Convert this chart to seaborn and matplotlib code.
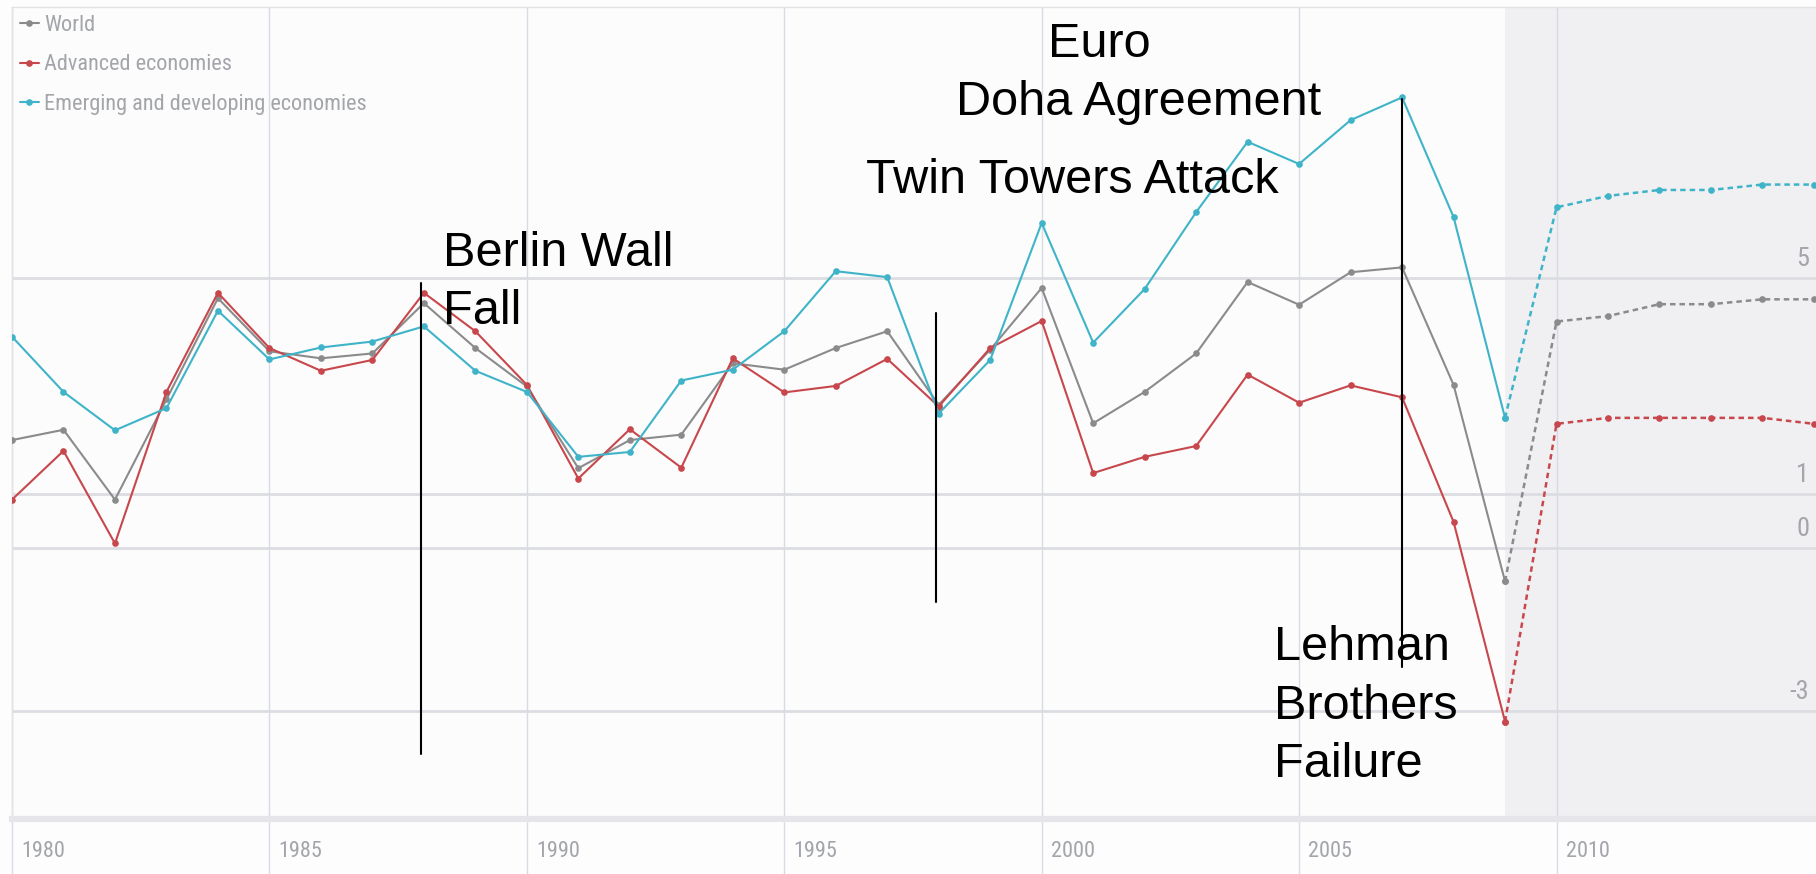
import numpy as np
import pandas as pd
import matplotlib
matplotlib.use("Agg")
import matplotlib.pyplot as plt
import matplotlib.transforms as mtransforms
from matplotlib import font_manager as fm
import seaborn as sns

years = list(range(1980, 2010))
world = [2.0, 2.19, 0.90, 2.75, 4.62, 3.64, 3.51, 3.6, 4.53, 3.70,
         2.99, 1.48, 2.0, 2.10, 3.42, 3.30, 3.70, 4.01, 2.65, 3.67,
         4.81, 2.31, 2.89, 3.60, 4.92, 4.50, 5.10, 5.19, 3.02, -0.61]
advanced = [0.90, 1.80, 0.09, 2.89, 4.72, 3.70, 3.28, 3.48, 4.72, 4.01,
            3.02, 1.29, 2.20, 1.49, 3.51, 2.88, 3.0, 3.5, 2.62, 3.70,
            4.20, 1.39, 1.69, 1.89, 3.21, 2.69, 3.01, 2.79, 0.49, -3.20]
emerging = [3.91, 2.89, 2.18, 2.59, 4.39, 3.49, 3.71, 3.82, 4.10, 3.28,
            2.89, 1.69, 1.78, 3.10, 3.30, 4.01, 5.12, 5.01, 2.49, 3.48,
            6.01, 3.80, 4.79, 6.21, 7.51, 7.10, 7.91, 8.33, 6.12, 2.41]

# projections
proj_years = list(range(2009, 2016))
world_proj = [-0.61, 4.19, 4.29, 4.51, 4.51, 4.60, 4.60]
advanced_proj = [-3.20, 2.30, 2.41, 2.41, 2.41, 2.41, 2.30]
emerging_proj = [2.41, 6.30, 6.51, 6.62, 6.62, 6.72, 6.72]

series_names = ["World", "Advanced economies", "Emerging and developing economies"]
series_colors = ["#8b8b8d", "#c8474c", "#3fb4c9"]

xtick_years = [1980, 1985, 1990, 1995, 2000, 2005, 2010]
ytick_values = [5, 1, 0, -3]
forecast_start = 2009

event_years = [1987.95, 1997.94, 2007.0]
event_spans = [(-3.8, 4.91), (-1.0, 4.35), (-2.19, 8.30)]
event_texts = [["Berlin Wall", "Fall"], ["Twin Towers Attack"], ["Lehman", "Brothers", "Failure"]]
top_texts = ["Euro", "Doha Agreement"]


def to_long(yrs, cols):
    frames = []
    for name, vals in zip(series_names, cols):
        frames.append(pd.DataFrame({"year": yrs, "growth": vals, "series": name}))
    return pd.concat(frames, ignore_index=True)


actual = to_long(years, [world, advanced, emerging])
proj = to_long(proj_years, [world_proj, advanced_proj, emerging_proj])

sns.set_theme(style="white")
plt.rcParams["font.family"] = ["Liberation Sans", "DejaVu Sans"]

# a condensed face for the small grey labels, whichever is around
installed = {f.name for f in fm.fontManager.ttflist}
narrow_name = next((n for n in ["Liberation Sans Narrow", "Roboto Condensed",
                                "Open Sans Condensed", "DejaVu Sans Condensed"]
                    if n in installed), None)
if narrow_name:
    small_font = fm.FontProperties(family=narrow_name, size=16)
else:
    small_font = fm.FontProperties(family="DejaVu Sans", stretch="condensed", size=14)
ylab_font = small_font.copy()
ylab_font.set_size(small_font.get_size() + 3)
grey = "#a3a5ab"

fig = plt.figure(figsize=(18.16, 8.74), dpi=100, facecolor="#fcfdfc")
ax = fig.add_axes([12 / 1816, 1 - 819 / 874, 1 - 12 / 1816, (819 - 7) / 874])
ax.set_facecolor("#fbfcfb")

palette = dict(zip(series_names, series_colors))
sns.lineplot(data=actual, x="year", y="growth", hue="series", hue_order=series_names,
             palette=palette, marker="o", markersize=4.8, markeredgewidth=0,
             linewidth=1.5, errorbar=None, ax=ax, zorder=3)
sns.lineplot(data=proj, x="year", y="growth", hue="series", hue_order=series_names,
             palette=palette, marker="o", markersize=4.8, markeredgewidth=0,
             linewidth=1.8, linestyle=(0, (2.2, 1.6)), errorbar=None,
             legend=False, ax=ax, zorder=3)

ax.set_xlim(1980, 2015.04)
ax.set_ylim(-5, 10)

# projection shading
ax.axvspan(forecast_start, 2016, color="#f0f0f2", zorder=0, lw=0)

# grid
for v in ytick_values:
    ax.axhline(v, color="#dcdde2", lw=2, zorder=1)
vtrans = mtransforms.blended_transform_factory(ax.transData, ax.transAxes)
for yr in xtick_years:
    ax.plot([yr, yr], [-0.075, 1], transform=vtrans, color="#d8dbe3", lw=1,
            clip_on=False, zorder=1)

# spines
for side in ["top", "left"]:
    ax.spines[side].set_color("#e2e3e7")
    ax.spines[side].set_linewidth(1)
ax.spines["right"].set_visible(False)
ax.spines["bottom"].set_color("#e6e6ea")
ax.spines["bottom"].set_linewidth(4.5)

# x ticks
ax.set_xticks(xtick_years)
ax.set_xticklabels([str(y) for y in xtick_years], color=grey, fontproperties=small_font)
ax.tick_params(axis="x", length=0, pad=16)
shift = mtransforms.ScaledTranslation(9 / 100, 0, fig.dpi_scale_trans)
for lbl in ax.get_xticklabels():
    lbl.set_ha("left")
    lbl.set_transform(lbl.get_transform() + shift)
ax.set_yticks([])
ax.set_xlabel("")
ax.set_ylabel("")

# y labels inside on the right
htrans = mtransforms.blended_transform_factory(ax.transAxes, ax.transData)
for v in ytick_values:
    ax.annotate(str(v), xy=(1, v), xycoords=htrans, xytext=(-5, 5),
                textcoords="offset points", ha="right", va="bottom",
                color=grey, fontproperties=ylab_font)

# legend
old = ax.get_legend()
handles = old.legend_handles
labels = [t.get_text() for t in old.get_texts()]
old.remove()
leg = ax.legend(handles, labels, loc="upper left", frameon=False,
                handlelength=0.85, handletextpad=0.25, labelspacing=0.84,
                borderaxespad=0.15, borderpad=0.2, prop=small_font)
for txt in leg.get_texts():
    txt.set_color(grey)

# event markers
for yr, (lo, hi) in zip(event_years, event_spans):
    ax.plot([yr, yr], [lo, hi], color="black", lw=1.5, zorder=4)

text_pos = [
    [(1988.37, 5.22), (1988.37, 4.15)],
    [(1996.58, 6.57)],
    [(2004.51, -2.07), (2004.51, -3.15), (2004.51, -4.22)],
]
for lines, pos in zip(event_texts, text_pos):
    for line, (x, y) in zip(lines, pos):
        ax.text(x, y, line, fontsize=35, color="black", va="baseline", ha="left", zorder=5)
for line, (x, y) in zip(top_texts, [(2000.12, 9.07), (1998.34, 8.0)]):
    ax.text(x, y, line, fontsize=35, color="black", va="baseline", ha="left", zorder=5)

fig.savefig("out.png", dpi=100, facecolor=fig.get_facecolor())
